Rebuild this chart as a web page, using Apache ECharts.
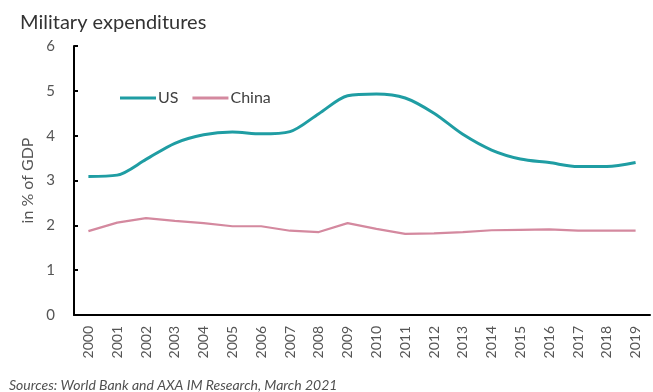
<!DOCTYPE html>
<html>
<head>
<meta charset="utf-8">
<script src="https://cdn.jsdelivr.net/npm/echarts@6/dist/echarts.min.js"></script>
<style>html,body{margin:0;padding:0;background:#fff;}#c{width:653px;height:392px;}</style>
</head>
<body>
<div id="c"></div>
<script>
const years = ['2000','2001','2002','2003','2004','2005','2006','2007','2008','2009','2010','2011','2012','2013','2014','2015','2016','2017','2018','2019'];
const us = [3.09,3.12,3.47,3.83,4.02,4.08,4.04,4.09,4.49,4.89,4.93,4.84,4.50,4.03,3.68,3.48,3.40,3.31,3.31,3.40];
const china = [1.87,2.06,2.16,2.10,2.05,1.98,1.98,1.88,1.85,2.05,1.92,1.81,1.82,1.85,1.89,1.90,1.91,1.88,1.88,1.88];
const yTicks = [0,1,2,3,4,5,6];

const font = 'Lato, "Open Sans", sans-serif';
const chart = echarts.init(document.getElementById('c'), null, {renderer:'canvas'});
chart.setOption({
  animation:false,
  backgroundColor:'#fff',
  textStyle:{fontFamily:font},
  title:[
    {text:'Military expenditures', left:15, top:8, textStyle:{fontFamily:font, fontSize:20, fontWeight:'normal', color:'#333'}},
    {text:'Sources: World Bank and AXA IM Research, March 2021', left:4, top:373, textStyle:{fontFamily:font, fontSize:14, fontStyle:'italic', fontWeight:'normal', color:'#505050'}}
  ],
  legend:{
    left:115, top:85, itemWidth:36, itemHeight:3, itemGap:14, icon:'rect',
    textStyle:{fontFamily:font, fontSize:16, color:'#404040', padding:[0,0,0,-3]},
    data:['US','China']
  },
  grid:{left:74, right:3, top:46, bottom:77, containLabel:false},
  xAxis:{
    type:'category', data:years, boundaryGap:true,
    axisLine:{lineStyle:{color:'#000', width:2}},
    axisTick:{inside:true, length:4, lineStyle:{color:'#000', width:2}},
    axisLabel:{rotate:90, fontFamily:font, fontSize:14, color:'#555', margin:11, interval:0}
  },
  yAxis:{
    type:'value', min:yTicks[0], max:yTicks[yTicks.length-1], interval:1,
    name:'in % of GDP', nameLocation:'middle', nameGap:38, nameRotate:90,
    nameTextStyle:{fontFamily:font, fontSize:16, color:'#555'},
    axisLine:{show:true, lineStyle:{color:'#000', width:2}},
    axisTick:{show:true, inside:true, length:4, lineStyle:{color:'#000', width:2}},
    axisLabel:{fontFamily:font, fontSize:15, color:'#555', margin:19},
    splitLine:{show:false}
  },
  series:[
    {name:'US', type:'line', data:us, smooth:0.3, symbol:'none', lineStyle:{color:'#1f9da3', width:3}, itemStyle:{color:'#1f9da3'}},
    {name:'China', type:'line', data:china, smooth:false, symbol:'none', lineStyle:{color:'#d4899f', width:2.2}, itemStyle:{color:'#d4899f'}}
  ]
});
</script>
</body>
</html>
